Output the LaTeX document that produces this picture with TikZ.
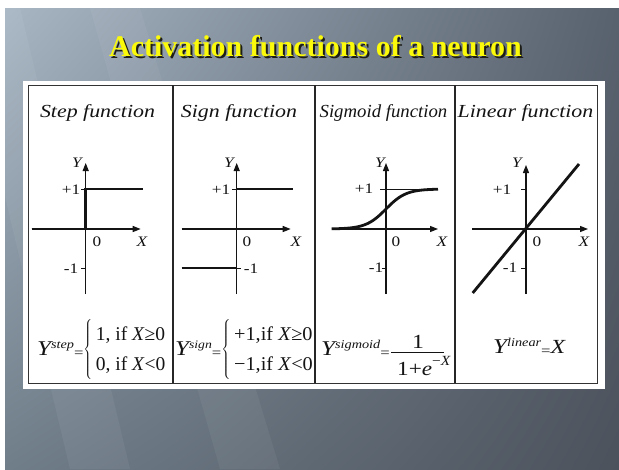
\documentclass[tikz,border=0pt]{standalone}
\usepackage{fontspec}
\setmainfont{Liberation Serif}
\usepackage{graphicx}
\usetikzlibrary{arrows.meta,shadings}
\newcommand{\sxx}[1]{\scalebox{1.19}[1]{#1}}
\newcommand{\fsz}[1]{\fontsize{#1}{#1}\selectfont}
\newcommand{\titletext}{Activation functions of a neuron}
\definecolor{titleyellow}{RGB}{250,250,10}
\definecolor{titleshade}{RGB}{30,30,25}
\definecolor{bgTL}{RGB}{168,182,196}
\definecolor{bgTR}{RGB}{88,98,110}
\definecolor{bgBL}{RGB}{112,126,138}
\definecolor{bgBR}{RGB}{76,82,92}
\definecolor{ink}{RGB}{20,20,20}
\begin{document}
\begin{tikzpicture}[x=1pt,y=-1pt,
  axisx/.style={line width=1.2pt, draw=ink, -{Triangle[length=8pt,width=6pt]}},
  fnline/.style={line width=2.8pt, draw=ink},
  tickline/.style={line width=0.9pt, draw=ink},
  lbl/.style={inner sep=0pt, text=ink, font=\fsz{14.5}},
  head/.style={inner sep=0pt, anchor=base, text=ink, font=\fsz{18.4}\itshape},
  frm/.style={inner sep=0pt, text=ink},
  titlefont/.style={inner sep=0pt, anchor=base, font=\fsz{30}\bfseries},
  divider/.style={line width=1.2pt, draw=black!85}
]
\useasboundingbox (0,0) rectangle (619,469);
\fill[white] (0,0) rectangle (619,469);
% background
\shade[upper left=bgTL, upper right=bgTR, lower left=bgBL, lower right=bgBR] (5,8) rectangle (619,469);
\begin{scope}
\clip (5,8) rectangle (619,469);
\fill[white, opacity=0.05] (-40,8) -- (20,8) -- (130,469) -- (70,469) -- cycle;
\fill[white, opacity=0.05] (90,8) -- (140,8) -- (280,469) -- (220,469) -- cycle;
\end{scope}
% title (with its drop shadow)
\node[titlefont, text=titleshade] (titleshadow) at (317.5,58.7) {\titletext};
\node[titlefont, text=titleyellow] (title) at (315.5,56.7) {\titletext};
% table
\fill[white] (23,81) rectangle (605,389);
\draw[line width=1pt, draw=black!80] (28,85) rectangle (597,383);
\draw[divider] (173,85) -- (173,383);
\draw[divider] (315,85) -- (315,383);
\draw[divider] (455,85) -- (455,383);
% headings
\node[head] (h1) at (97.5,117) {\sxx{Step function}};
\node[head] (h2) at (239,117) {\sxx{Sign function}};
\node[head] (h3) at (383.5,117) {\scalebox{1.02}[1]{Sigmoid function}};
\node[head] (h4) at (525.5,117) {\sxx{Linear function}};

% ---------- column 1: step ----------
\coordinate (o1) at (85.7,229);
\draw[axisx] (31.7,229) -- (140.7,229);
\draw[axisx] (85.7,294) -- (85.7,163);
\draw[fnline] (31.7,229) -- (o1) -- (85.7,189) -- (143,189);
\draw[tickline] (81,189) -- (85.7,189);
\draw[tickline] (81,268) -- (85.7,268);
\node[lbl] (y1) at (77,163) {\sxx{\itshape Y}};
\node[lbl] (p1) at (71,190) {\sxx{+1}};
\node[lbl] (m1) at (71,269) {\sxx{-1}};
\node[lbl] (z1) at (97,242) {\sxx{0}};
\node[lbl] (x1) at (142,242) {\sxx{\itshape X}};
\node[frm, anchor=base west] (f1) at (37,355)
  {\sxx{\fsz{21}\itshape Y}\raisebox{7pt}{\sxx{\fsz{12}\itshape step}}\raisebox{-2pt}{\sxx{\fsz{14}=}}%
   \fontsize{19.5}{30}\selectfont$\left\{\,\begin{tabular}{@{}l@{}}1, if \textit{X}≥0\\0, if \textit{X}<0\end{tabular}\right.$};

% ---------- column 2: sign ----------
\coordinate (o2) at (236.7,229);
\draw[axisx] (181.7,229) -- (290.7,229);
\draw[axisx] (236.7,294) -- (236.7,163);
\draw[fnline] (236.7,189) -- (293,189);
\draw[fnline] (181.7,268) -- (236.7,268);
\draw[tickline] (232,189) -- (236.7,189);
\draw[tickline] (236.7,268) -- (241,268);
\node[lbl] (y2) at (229,163) {\sxx{\itshape Y}};
\node[lbl] (p2) at (221,190) {\sxx{+1}};
\node[lbl] (m2) at (251,269) {\sxx{-1}};
\node[lbl] (z2) at (247,242) {\sxx{0}};
\node[lbl] (x2) at (296,242) {\sxx{\itshape X}};
\node[frm, anchor=base west] (f2) at (175,355)
  {\sxx{\fsz{21}\itshape Y}\raisebox{7pt}{\sxx{\fsz{11.5}\itshape sign}}\raisebox{-2pt}{\sxx{\fsz{14}=}}%
   \scalebox{1.04}[1]{\fontsize{19.5}{30}\selectfont$\left\{\,\begin{tabular}{@{}l@{}}+1,if \textit{X}≥0\\−1,if \textit{X}<0\end{tabular}\right.$}};

% ---------- column 3: sigmoid ----------
\coordinate (o3) at (386,229);
\draw[axisx] (331.7,229) -- (438,229);
\draw[axisx] (386,294) -- (386,163);
\draw[line width=0.8pt, draw=ink] (380,189) -- (438,189);
\draw[fnline, line join=round] plot[domain=331.7:438, samples=60] (\x, {229 - 40/(1+exp(-0.1*(\x-386)))});
\draw[tickline] (381.5,268) -- (386,268);
\node[lbl] (y3) at (380,163) {\sxx{\itshape Y}};
\node[lbl] (p3) at (364,189) {\sxx{+1}};
\node[lbl] (m3) at (376,268) {\sxx{-1}};
\node[lbl] (z3) at (396,242) {\sxx{0}};
\node[lbl] (x3) at (442,242) {\sxx{\itshape X}};
\node[frm, anchor=base west] (f3) at (321,355)
  {\sxx{\fsz{21}\itshape Y}\raisebox{7pt}{\sxx{\fsz{12}\itshape sigmoid}}\raisebox{-2pt}{\sxx{\fsz{14}=}}};
\draw[line width=0.8pt, draw=ink] (391,352) -- (444,352);
\node[frm, anchor=base] (f3n) at (418,348) {\sxx{\fsz{20}1}};
\node[frm, anchor=base west] (f3d) at (397,375)
  {\scalebox{1.16}[1]{\fsz{20}1+\textit{e}}\raisebox{10pt}{\scalebox{1.1}[1]{\fsz{14}−\textit{X}}}};

% ---------- column 4: linear ----------
\coordinate (o4) at (526,229);
\draw[axisx] (472,229) -- (588,229);
\draw[axisx] (526,294) -- (526,165);
\draw[fnline] (472.7,293) -- (579,164);
\draw[tickline] (521,189) -- (526,189);
\draw[tickline] (521,268) -- (526,268);
\node[lbl] (y4) at (517,163) {\sxx{\itshape Y}};
\node[lbl] (p4) at (502,190) {\sxx{+1}};
\node[lbl] (m4) at (510,268) {\sxx{-1}};
\node[lbl] (z4) at (537,242) {\sxx{0}};
\node[lbl] (x4) at (584,242) {\sxx{\itshape X}};
\node[frm, anchor=base west] (f4) at (493,353)
  {\sxx{\fsz{21}\itshape Y}\raisebox{7pt}{\sxx{\fsz{12}\itshape linear}}\raisebox{-2pt}{\sxx{\fsz{14}=}}\sxx{\fsz{20}\itshape X}};
\end{tikzpicture}
\end{document}
